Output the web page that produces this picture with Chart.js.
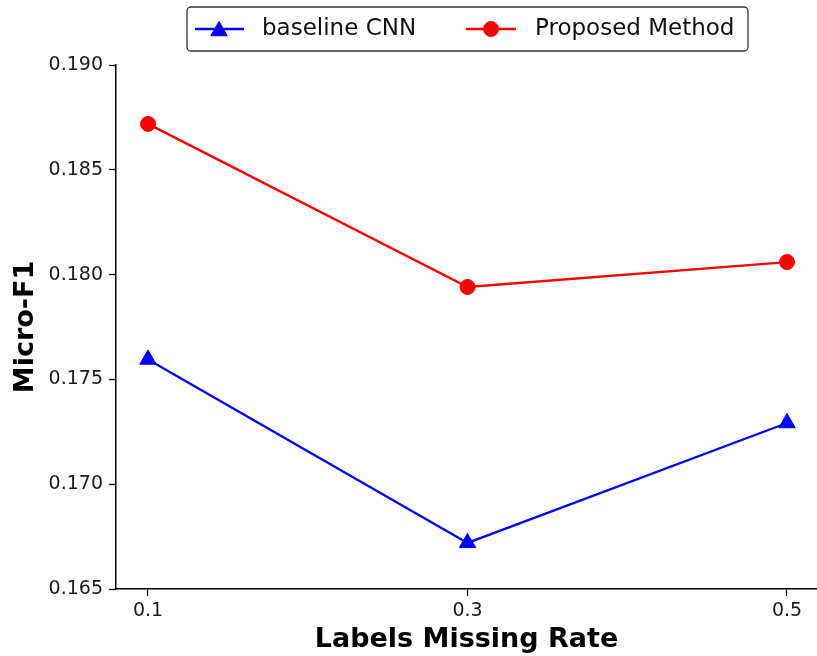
<!DOCTYPE html>
<html>
<head>
<meta charset="utf-8">
<script src="https://cdn.jsdelivr.net/npm/chart.js@4.4.0/dist/chart.umd.min.js"></script>
<style>
html,body{margin:0;padding:0;background:#fff;}
#wrap{position:relative;width:817px;height:656px;}
</style>
</head>
<body>
<div id="wrap"><canvas id="c" width="817" height="656"></canvas></div>
<script>
const missingRates = [0.1, 0.3, 0.5];
const xTickLabels = ['0.1', '0.3', '0.5'];
const baselineCNN = [0.17595, 0.16720, 0.17292];
const proposedMethod = [0.18719, 0.17941, 0.18060];
const seriesNames = ['baseline CNN', 'Proposed Method'];
const yTicks = [0.165, 0.170, 0.175, 0.180, 0.185, 0.190];

const FONT = "'DejaVu Sans', sans-serif";

const legendPlugin = {
  id: 'boxLegend',
  afterDraw(chart) {
    const ctx = chart.ctx;
    ctx.save();
    const x0 = 187, y0 = 7, w = 561, h = 44, r = 4;
    ctx.beginPath();
    ctx.moveTo(x0 + r, y0);
    ctx.lineTo(x0 + w - r, y0);
    ctx.arcTo(x0 + w, y0, x0 + w, y0 + r, r);
    ctx.lineTo(x0 + w, y0 + h - r);
    ctx.arcTo(x0 + w, y0 + h, x0 + w - r, y0 + h, r);
    ctx.lineTo(x0 + r, y0 + h);
    ctx.arcTo(x0, y0 + h, x0, y0 + h - r, r);
    ctx.lineTo(x0, y0 + r);
    ctx.arcTo(x0, y0, x0 + r, y0, r);
    ctx.closePath();
    ctx.fillStyle = '#ffffff';
    ctx.fill();
    ctx.strokeStyle = '#333333';
    ctx.lineWidth = 1.3;
    ctx.stroke();
    const cy = 29;
    const items = [
      {x1: 195, x2: 244, mx: 219, color: '#0000ff', style: 'triangle', text: seriesNames[0], tx: 262},
      {x1: 466, x2: 516, mx: 491, color: '#ff0000', style: 'circle', text: seriesNames[1], tx: 535}
    ];
    items.forEach(it => {
      ctx.strokeStyle = it.color;
      ctx.lineWidth = 2.3;
      ctx.beginPath();
      ctx.moveTo(it.x1, cy);
      ctx.lineTo(it.x2, cy);
      ctx.stroke();
      ctx.fillStyle = it.color;
      ctx.lineWidth = 1;
      Chart.helpers.drawPoint(ctx, {pointStyle: it.style, radius: it.style === 'triangle' ? 9.5 : 7.5, borderWidth: 1}, it.mx, cy + (it.style === 'triangle' ? 2 : 0));
      ctx.fillStyle = '#111111';
      ctx.font = "23px " + FONT;
      ctx.textBaseline = 'middle';
      ctx.textAlign = 'left';
      ctx.fillText(it.text, it.tx, cy);
    });
    ctx.restore();
  }
};

new Chart(document.getElementById('c'), {
  type: 'line',
  data: {
    datasets: [
      {
        label: seriesNames[0],
        data: missingRates.map((x, i) => ({x: x, y: baselineCNN[i]})),
        borderColor: '#0000ff',
        backgroundColor: '#0000ff',
        borderWidth: 2.3,
        pointStyle: 'triangle',
        pointRadius: 9.5,
        pointBorderWidth: 1,
        tension: 0
      },
      {
        label: seriesNames[1],
        data: missingRates.map((x, i) => ({x: x, y: proposedMethod[i]})),
        borderColor: '#ff0000',
        backgroundColor: '#ff0000',
        borderWidth: 2.3,
        pointStyle: 'circle',
        pointRadius: 7.5,
        pointBorderWidth: 1,
        tension: 0
      }
    ]
  },
  options: {
    responsive: false,
    animation: false,
    layout: {autoPadding: false, padding: {top: 65, right: 0, left: 0, bottom: 0}},
    plugins: {legend: {display: false}, tooltip: {enabled: false}},
    scales: {
      x: {
        type: 'linear',
        min: 0.07997,
        max: 0.51878,
        afterBuildTicks(axis) { axis.ticks = missingRates.map(v => ({value: v})); },
        afterFit(axis) { axis.height = 67; axis.paddingRight = 0; axis.paddingLeft = 0; },
        ticks: {
          color: '#1a1a1a',
          font: {family: FONT, size: 19},
          padding: 4,
          callback: (v) => { const i = missingRates.indexOf(v); return i >= 0 ? xTickLabels[i] : ''; }
        },
        grid: {display: true, drawOnChartArea: false, drawTicks: true, tickLength: 7, tickColor: '#000', tickWidth: 1.3},
        border: {display: true, color: '#000', width: 1.5},
        title: {display: true, text: 'Labels Missing Rate', color: '#000', font: {family: FONT, size: 27, weight: 'bold'}, padding: {top: 3, bottom: 0}}
      },
      y: {
        type: 'linear',
        min: 0.165,
        max: 0.190,
        afterBuildTicks(axis) { axis.ticks = yTicks.map(v => ({value: v})); },
        afterFit(axis) { axis.width = 116; axis.paddingTop = 0; axis.paddingBottom = 0; },
        ticks: {
          color: '#1a1a1a',
          font: {family: FONT, size: 19},
          padding: 6,
          callback: (v) => v.toFixed(3)
        },
        grid: {display: true, drawOnChartArea: false, drawTicks: true, tickLength: 7, tickColor: '#000', tickWidth: 1.3},
        border: {display: true, color: '#000', width: 1.5},
        title: {display: true, text: 'Micro-F1', color: '#000', font: {family: FONT, size: 27, weight: 'bold'}, padding: {top: 10, bottom: 0}}
      }
    }
  },
  plugins: [legendPlugin]
});
</script>
</body>
</html>
